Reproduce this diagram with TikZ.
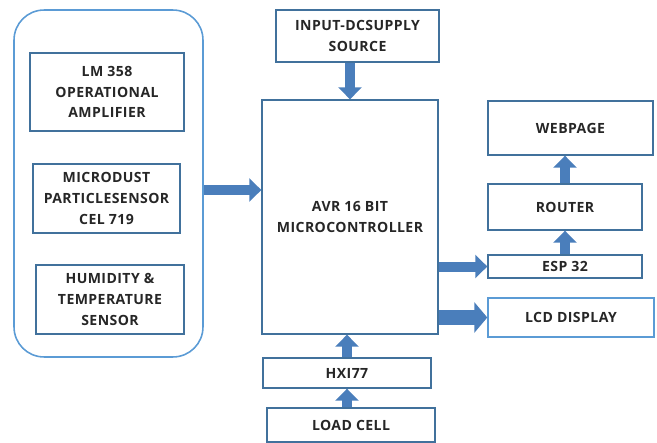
\documentclass[tikz,border=0pt]{standalone}
\usepackage{fontspec}
\setmainfont{Open Sans}[LetterSpace=3]
\usepackage{tikz}
\usetikzlibrary{arrows.meta}
\definecolor{edgeblue}{HTML}{41719C}
\definecolor{lightblue}{HTML}{5B9BD5}
\definecolor{arrowblue}{HTML}{4A7EBB}
\definecolor{txt}{HTML}{262626}
\tikzset{
	blk/.style={draw=edgeblue, line width=0.8pt, inner sep=0pt, align=center,
		text=txt, font=\fontsize{8}{11.9}\selectfont\bfseries},
	fat/.style={draw=arrowblue, line width=0.2cm, -{Triangle[width=0.46cm,length=0.24cm]}},
	fatter/.style={draw=arrowblue, line width=0.3cm, -{Triangle[width=0.6cm,length=0.26cm]}}
}

\begin{document}
\begin{tikzpicture}[x=0.02cm, y=-0.02cm]
	\useasboundingbox (0,0) rectangle (657,443);
	\node[draw=lightblue, line width=0.9pt, rounded corners=0.6cm, minimum width=3.78cm, minimum height=6.94cm] at (108.5,183.5) (grp) {};
	\node[blk, minimum width=3.08cm, minimum height=1.56cm] at (107,92) (lm) {LM 358\\OPERATIONAL\\AMPLIFIER};
	\node[blk, minimum width=2.94cm, minimum height=1.38cm] at (106.5,198.5) (dust) {MICRODUST\\PARTICLESENSOR\\CEL 719};
	\node[blk, minimum width=2.96cm, minimum height=1.38cm] at (110,299.5) (hum) {HUMIDITY \&\\TEMPERATURE\\SENSOR};
	\node[blk, minimum width=3.26cm, minimum height=1.04cm] at (357.5,36) (dc) {INPUT-DCSUPPLY\\SOURCE};
	\node[blk, minimum width=3.52cm, minimum height=4.68cm] at (350,217) (avr) {AVR 16 BIT\\MICROCONTROLLER};
	\node[blk, minimum width=3.36cm, minimum height=0.6cm] at (347,373) (hx) {HXI77};
	\node[blk, minimum width=3.36cm, minimum height=0.68cm] at (351,425) (load) {LOAD CELL};
	\node[blk, minimum width=3.3cm, minimum height=1.08cm] at (570.5,128) (web) {WEBPAGE};
	\node[blk, minimum width=3.08cm, minimum height=0.92cm] at (565,207) (router) {ROUTER};
	\node[blk, minimum width=3.08cm, minimum height=0.46cm] at (565,266.5) (esp) {ESP 32};
	\node[blk, draw=lightblue, minimum width=3.32cm, minimum height=0.78cm] at (571,317.5) (lcd) {LCD DISPLAY};
	\draw[fat] ([yshift=-0.13cm]grp.east) -- ([yshift=-0.13cm]grp.east -| avr.west);
	\draw[fat] (avr.north |- dc.south) -- (avr.north);
	\draw[fat] (esp -| avr.east) -- (esp.west);
	\draw[fatter] (lcd -| avr.east) -- (lcd.west);
	\draw[fat] (esp.north) -- (router.south);
	\draw[fat] (router.north) -- (router.north |- web.south);
	\draw[fat] (hx.north) -- (hx.north |- avr.south);
	\draw[fat] (hx.south |- load.north) -- (hx.south);
\end{tikzpicture}
\end{document}
